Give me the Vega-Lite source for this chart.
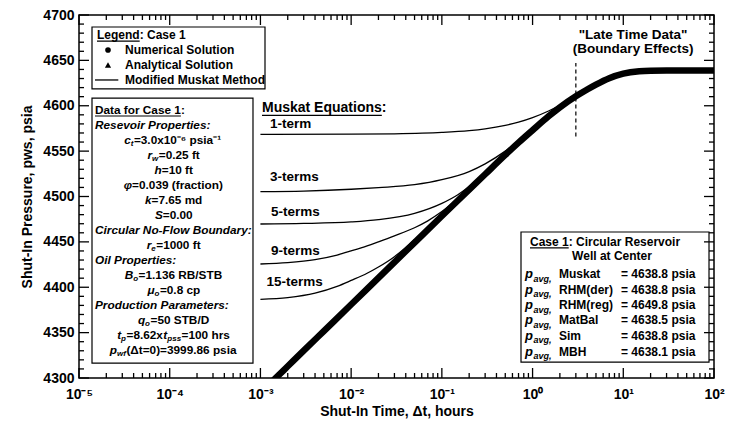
{
  "$schema": "https://vega.github.io/schema/vega-lite/v6.json",
  "width": 635,
  "height": 363,
  "autosize": {"type": "none"},
  "padding": {"left": 79, "top": 15, "right": 20, "bottom": 48},
  "background": "white",
  "config": {
    "view": {"stroke": "black", "strokeWidth": 1.5},
    "font": "Liberation Sans"
  },
  "datasets": {
    "main": [
      {"t": 0.0012, "p": 4291.3}, {"t": 0.0015, "p": 4300.7}, {"t": 0.002, "p": 4312.9}, {"t": 0.003, "p": 4330.1},
      {"t": 0.005, "p": 4351.7}, {"t": 0.01, "p": 4381.0}, {"t": 0.02, "p": 4410.4}, {"t": 0.05, "p": 4449.2},
      {"t": 0.1, "p": 4478.5}, {"t": 0.2, "p": 4507.5}, {"t": 0.3, "p": 4524.5}, {"t": 0.5, "p": 4545.8},
      {"t": 0.7, "p": 4559.3}, {"t": 1.0, "p": 4573.0}, {"t": 1.5, "p": 4588.3}, {"t": 2.0, "p": 4598.3},
      {"t": 3.0, "p": 4610.5}, {"t": 4.0, "p": 4617.9}, {"t": 5.0, "p": 4623.3}, {"t": 7.0, "p": 4630.4},
      {"t": 10, "p": 4635.4}, {"t": 15, "p": 4638.05}, {"t": 20, "p": 4638.64}, {"t": 30, "p": 4638.8},
      {"t": 50, "p": 4638.8}, {"t": 100, "p": 4638.8}
    ],
    "muskat": [
      {"terms": "1-term", "t": 0.001, "p": 4568.5}, {"terms": "1-term", "t": 0.01, "p": 4568.7}, {"terms": "1-term", "t": 0.03, "p": 4569.1},
      {"terms": "1-term", "t": 0.1, "p": 4570.6}, {"terms": "1-term", "t": 0.2, "p": 4572.6}, {"terms": "1-term", "t": 0.3, "p": 4574.6},
      {"terms": "1-term", "t": 0.5, "p": 4578.4}, {"terms": "1-term", "t": 0.7, "p": 4581.9}, {"terms": "1-term", "t": 1.0, "p": 4586.9},
      {"terms": "1-term", "t": 1.5, "p": 4594.2}, {"terms": "1-term", "t": 2.0, "p": 4600.5}, {"terms": "1-term", "t": 2.5, "p": 4605.8},
      {"terms": "1-term", "t": 3.0, "p": 4610.5}, {"terms": "1-term", "t": 3.5, "p": 4614.5},
      {"terms": "3-terms", "t": 0.001, "p": 4505.3}, {"terms": "3-terms", "t": 0.003, "p": 4506.0}, {"terms": "3-terms", "t": 0.01, "p": 4508.0},
      {"terms": "3-terms", "t": 0.02, "p": 4509.8}, {"terms": "3-terms", "t": 0.05, "p": 4513.0}, {"terms": "3-terms", "t": 0.1, "p": 4518.5},
      {"terms": "3-terms", "t": 0.2, "p": 4527.5}, {"terms": "3-terms", "t": 0.3, "p": 4536.0}, {"terms": "3-terms", "t": 0.5, "p": 4550.0},
      {"terms": "3-terms", "t": 0.7, "p": 4561.0}, {"terms": "3-terms", "t": 1.0, "p": 4574.0},
      {"terms": "5-terms", "t": 0.001, "p": 4469.7}, {"terms": "5-terms", "t": 0.003, "p": 4470.3}, {"terms": "5-terms", "t": 0.01, "p": 4472.0},
      {"terms": "5-terms", "t": 0.02, "p": 4474.5}, {"terms": "5-terms", "t": 0.05, "p": 4481.5}, {"terms": "5-terms", "t": 0.1, "p": 4492.5},
      {"terms": "5-terms", "t": 0.15, "p": 4502.0}, {"terms": "5-terms", "t": 0.2, "p": 4511.0}, {"terms": "5-terms", "t": 0.3, "p": 4526.5},
      {"terms": "5-terms", "t": 0.5, "p": 4546.5},
      {"terms": "9-terms", "t": 0.001, "p": 4425.6}, {"terms": "9-terms", "t": 0.002, "p": 4427.2}, {"terms": "9-terms", "t": 0.004, "p": 4430.5},
      {"terms": "9-terms", "t": 0.007, "p": 4435.5}, {"terms": "9-terms", "t": 0.01, "p": 4440.0}, {"terms": "9-terms", "t": 0.015, "p": 4445.5},
      {"terms": "9-terms", "t": 0.02, "p": 4450.0}, {"terms": "9-terms", "t": 0.03, "p": 4456.6}, {"terms": "9-terms", "t": 0.05, "p": 4465.6},
      {"terms": "9-terms", "t": 0.07, "p": 4473.2}, {"terms": "9-terms", "t": 0.1, "p": 4483.4}, {"terms": "9-terms", "t": 0.15, "p": 4497.5},
      {"terms": "9-terms", "t": 0.2, "p": 4508.7},
      {"terms": "15-terms", "t": 0.001, "p": 4386.7}, {"terms": "15-terms", "t": 0.002, "p": 4388.6}, {"terms": "15-terms", "t": 0.004, "p": 4393.5},
      {"terms": "15-terms", "t": 0.007, "p": 4401.0}, {"terms": "15-terms", "t": 0.01, "p": 4407.5}, {"terms": "15-terms", "t": 0.015, "p": 4415.4},
      {"terms": "15-terms", "t": 0.02, "p": 4422.3}, {"terms": "15-terms", "t": 0.03, "p": 4433.7}, {"terms": "15-terms", "t": 0.04, "p": 4443.7},
      {"terms": "15-terms", "t": 0.05, "p": 4452.6}
    ],
    "xMajor": [{"t": 1e-5}, {"t": 1e-4}, {"t": 0.001}, {"t": 0.01}, {"t": 0.1}, {"t": 1}, {"t": 10}, {"t": 100}],
    "xMinor": [
      {"t": 2e-5}, {"t": 3e-5}, {"t": 4e-5}, {"t": 5e-5}, {"t": 6e-5}, {"t": 7e-5}, {"t": 8e-5}, {"t": 9e-5},
      {"t": 2e-4}, {"t": 3e-4}, {"t": 4e-4}, {"t": 5e-4}, {"t": 6e-4}, {"t": 7e-4}, {"t": 8e-4}, {"t": 9e-4},
      {"t": 0.002}, {"t": 0.003}, {"t": 0.004}, {"t": 0.005}, {"t": 0.006}, {"t": 0.007}, {"t": 0.008}, {"t": 0.009},
      {"t": 0.02}, {"t": 0.03}, {"t": 0.04}, {"t": 0.05}, {"t": 0.06}, {"t": 0.07}, {"t": 0.08}, {"t": 0.09},
      {"t": 0.2}, {"t": 0.3}, {"t": 0.4}, {"t": 0.5}, {"t": 0.6}, {"t": 0.7}, {"t": 0.8}, {"t": 0.9},
      {"t": 2}, {"t": 3}, {"t": 4}, {"t": 5}, {"t": 6}, {"t": 7}, {"t": 8}, {"t": 9},
      {"t": 20}, {"t": 30}, {"t": 40}, {"t": 50}, {"t": 60}, {"t": 70}, {"t": 80}, {"t": 90}
    ],
    "yMajor": [{"p": 4300}, {"p": 4350}, {"p": 4400}, {"p": 4450}, {"p": 4500}, {"p": 4550}, {"p": 4600}, {"p": 4650}, {"p": 4700}],
    "yMinor": [
      {"p": 4310}, {"p": 4320}, {"p": 4330}, {"p": 4340}, {"p": 4360}, {"p": 4370}, {"p": 4380}, {"p": 4390},
      {"p": 4410}, {"p": 4420}, {"p": 4430}, {"p": 4440}, {"p": 4460}, {"p": 4470}, {"p": 4480}, {"p": 4490},
      {"p": 4510}, {"p": 4520}, {"p": 4530}, {"p": 4540}, {"p": 4560}, {"p": 4570}, {"p": 4580}, {"p": 4590},
      {"p": 4610}, {"p": 4620}, {"p": 4630}, {"p": 4640}, {"p": 4660}, {"p": 4670}, {"p": 4680}, {"p": 4690}
    ],
    "boxes": [
      {"box": "legend", "t1": 1.391e-5, "t2": 1.123e-3, "p1": 4618.5, "p2": 4686.8},
      {"box": "data", "t1": 1.391e-5, "t2": 8.28e-4, "p1": 4316.5, "p2": 4608.5},
      {"box": "case", "t1": 0.7455, "t2": 88.1, "p1": 4317.6, "p2": 4460.9}
    ],
    "dashed": [{"t": 3, "p1": 4566, "p2": 4647}],
    "underlines": [
      {"t1": 1.579e-5, "t2": 4.668e-5, "p": 4671.3},
      {"t1": 1.5012e-5, "t2": 1.3284e-4, "p": 4588.7},
      {"t1": 1.0407e-3, "t2": 0.02178, "p": 4589.5},
      {"t1": 0.9369, "t2": 2.502, "p": 4443.3}
    ],
    "legendCircle": [{"t": 2.088e-5, "p": 4661.4}],
    "legendTriangle": [{"t": 2.088e-5, "p": 4644.9}],
    "legendLine": [{"t1": 1.5012e-5, "t2": 2.7125e-5, "p": 4628.4}],
    "txtBold12": [
      {"t": 1.579e-5, "p": 4678.0, "text": "Legend: Case 1"},
      {"t": 3.215e-5, "p": 4661.4, "text": "Numerical Solution"},
      {"t": 3.215e-5, "p": 4644.9, "text": "Analytical Solution"},
      {"t": 3.215e-5, "p": 4628.4, "text": "Modified Muskat Method"},
      {"t": 0.9369, "p": 4449.9, "text": "Case 1: Circular Reservoir"},
      {"t": 1.956, "p": 4414.6, "text": "Muskat"},
      {"t": 1.956, "p": 4397.5, "text": "RHM(der)"},
      {"t": 1.956, "p": 4380.4, "text": "RHM(reg)"},
      {"t": 1.956, "p": 4363.4, "text": "MatBal"},
      {"t": 1.956, "p": 4346.3, "text": "Sim"},
      {"t": 1.956, "p": 4329.2, "text": "MBH"},
      {"t": 9.437, "p": 4414.6, "text": "= 4638.8 psia"},
      {"t": 9.437, "p": 4397.5, "text": "= 4638.8 psia"},
      {"t": 9.437, "p": 4380.4, "text": "= 4649.8 psia"},
      {"t": 9.437, "p": 4363.4, "text": "= 4638.5 psia"},
      {"t": 9.437, "p": 4346.3, "text": "= 4638.8 psia"},
      {"t": 9.437, "p": 4329.2, "text": "= 4638.1 psia"}
    ],
    "txtCenter12": [{"t": 7.51, "p": 4434.4, "text": "Well at Center"}],
    "txtCaseP": [
      {"t": 0.8253, "p": 4414.6, "text": "p"}, {"t": 0.8253, "p": 4397.5, "text": "p"}, {"t": 0.8253, "p": 4380.4, "text": "p"},
      {"t": 0.8253, "p": 4363.4, "text": "p"}, {"t": 0.8253, "p": 4346.3, "text": "p"}, {"t": 0.8253, "p": 4329.2, "text": "p"}
    ],
    "txtCaseSub": [
      {"t": 1.0238, "p": 4414.6, "text": "avg,"}, {"t": 1.0238, "p": 4397.5, "text": "avg,"}, {"t": 1.0238, "p": 4380.4, "text": "avg,"},
      {"t": 1.0238, "p": 4363.4, "text": "avg,"}, {"t": 1.0238, "p": 4346.3, "text": "avg,"}, {"t": 1.0238, "p": 4329.2, "text": "avg,"}
    ],
    "dbRest": [
      {"t": 1.5012e-5, "p": 4595.3, "text": "Data for Case 1:"},
      {"t": 4.029e-5, "p": 4562.3, "text": "=3.0x10⁻⁶ psia⁻¹"},
      {"t": 7.580e-5, "p": 4545.7, "text": "=0.25 ft"},
      {"t": 8.180e-5, "p": 4529.2, "text": "=10 ft"},
      {"t": 3.849e-5, "p": 4512.7, "text": "=0.039 (fraction)"},
      {"t": 6.298e-5, "p": 4496.1, "text": "=7.65 md"},
      {"t": 8.390e-5, "p": 4479.6, "text": "=0.00"},
      {"t": 7.114e-5, "p": 4446.6, "text": "=1000 ft"},
      {"t": 4.539e-5, "p": 4413.5, "text": "=1.136 RB/STB"},
      {"t": 7.795e-5, "p": 4397.0, "text": "=0.8 cp"},
      {"t": 6.140e-5, "p": 4363.9, "text": "=50 STB/D"},
      {"t": 3.339e-5, "p": 4347.4, "text": "=8.62x"},
      {"t": 1.3524e-4, "p": 4347.4, "text": "=100 hrs"},
      {"t": 3.330e-5, "p": 4330.9, "text": "(Δt=0)=3999.86 psia"}
    ],
    "dbVar": [
      {"t": 3.7148e-5, "p": 4562.3, "text": "c"},
      {"t": 6.394e-5, "p": 4545.7, "text": "r"},
      {"t": 8.180e-5, "p": 4529.2, "text": "h"},
      {"t": 3.849e-5, "p": 4512.7, "text": "φ"},
      {"t": 6.298e-5, "p": 4496.1, "text": "k"},
      {"t": 8.390e-5, "p": 4479.6, "text": "S"},
      {"t": 6.266e-5, "p": 4446.6, "text": "r"},
      {"t": 3.958e-5, "p": 4413.5, "text": "B"},
      {"t": 6.797e-5, "p": 4397.0, "text": "μ"},
      {"t": 5.356e-5, "p": 4363.9, "text": "q"},
      {"t": 2.912e-5, "p": 4347.4, "text": "t"},
      {"t": 2.624e-5, "p": 4330.9, "text": "p"}
    ],
    "dbSub": [
      {"t": 3.7148e-5, "p": 4562.3, "text": "t"},
      {"t": 6.394e-5, "p": 4545.7, "text": "w"},
      {"t": 6.266e-5, "p": 4446.6, "text": "e"},
      {"t": 3.958e-5, "p": 4413.5, "text": "o"},
      {"t": 6.797e-5, "p": 4397.0, "text": "o"},
      {"t": 5.356e-5, "p": 4363.9, "text": "o"},
      {"t": 2.912e-5, "p": 4347.4, "text": "p"},
      {"t": 9.406e-5, "p": 4347.4, "text": "pss"},
      {"t": 2.624e-5, "p": 4330.9, "text": "wf"}
    ],
    "dbItalic": [
      {"t": 1.5012e-5, "p": 4578.8, "text": "Resevoir Properties:"},
      {"t": 1.5012e-5, "p": 4463.1, "text": "Circular No-Flow Boundary:"},
      {"t": 1.5012e-5, "p": 4430.0, "text": "Oil Properties:"},
      {"t": 1.5012e-5, "p": 4380.4, "text": "Production Parameters:"},
      {"t": 8.476e-5, "p": 4347.4, "text": "t"}
    ],
    "txtMuskHead": [{"t": 1.0407e-3, "p": 4597.2, "text": "Muskat Equations:"}],
    "txtTerms": [
      {"t": 1.2750e-3, "p": 4579.9, "text": "1-term"},
      {"t": 1.2750e-3, "p": 4521.8, "text": "3-terms"},
      {"t": 1.3078e-3, "p": 4483.3, "text": "5-terms"},
      {"t": 1.3078e-3, "p": 4440.3, "text": "9-terms"},
      {"t": 1.1665e-3, "p": 4406.1, "text": "15-terms"}
    ],
    "txtLate": [
      {"t": 12.8, "p": 4678.0, "text": "\"Late Time Data\""},
      {"t": 12.8, "p": 4662.0, "text": "(Boundary Effects)"}
    ]
  },
  "layer": [
    {
      "data": {"name": "boxes"},
      "mark": {"type": "rect", "fill": "white", "stroke": "black", "strokeWidth": 1.2},
      "encoding": {
        "x": {"field": "t1", "type": "quantitative", "scale": {"type": "log", "domain": [1e-5, 100], "nice": false}, "axis": null},
        "x2": {"field": "t2"},
        "y": {"field": "p1", "type": "quantitative", "scale": {"domain": [4300, 4700], "nice": false, "zero": false}, "axis": null},
        "y2": {"field": "p2"}
      }
    },
    {
      "data": {"name": "xMajor"},
      "mark": {"type": "rule", "color": "black", "strokeWidth": 1.3},
      "encoding": {
        "x": {"field": "t", "type": "quantitative", "scale": {"type": "log", "domain": [1e-5, 100], "nice": false}, "axis": null},
        "y": {"datum": 4300, "type": "quantitative", "scale": {"domain": [4300, 4700], "nice": false, "zero": false}, "axis": null},
        "y2": {"datum": 4311}
      }
    },
    {
      "data": {"name": "xMajor"},
      "mark": {"type": "rule", "color": "black", "strokeWidth": 1.3},
      "encoding": {
        "x": {"field": "t", "type": "quantitative", "scale": {"type": "log", "domain": [1e-5, 100], "nice": false}, "axis": null},
        "y": {"datum": 4700, "type": "quantitative", "scale": {"domain": [4300, 4700], "nice": false, "zero": false}, "axis": null},
        "y2": {"datum": 4689}
      }
    },
    {
      "data": {"name": "xMinor"},
      "mark": {"type": "rule", "color": "black", "strokeWidth": 1.3},
      "encoding": {
        "x": {"field": "t", "type": "quantitative", "scale": {"type": "log", "domain": [1e-5, 100], "nice": false}, "axis": null},
        "y": {"datum": 4300, "type": "quantitative", "scale": {"domain": [4300, 4700], "nice": false, "zero": false}, "axis": null},
        "y2": {"datum": 4305.5}
      }
    },
    {
      "data": {"name": "xMinor"},
      "mark": {"type": "rule", "color": "black", "strokeWidth": 1.3},
      "encoding": {
        "x": {"field": "t", "type": "quantitative", "scale": {"type": "log", "domain": [1e-5, 100], "nice": false}, "axis": null},
        "y": {"datum": 4700, "type": "quantitative", "scale": {"domain": [4300, 4700], "nice": false, "zero": false}, "axis": null},
        "y2": {"datum": 4694.5}
      }
    },
    {
      "data": {"name": "yMajor"},
      "mark": {"type": "rule", "color": "black", "strokeWidth": 1.3},
      "encoding": {
        "y": {"field": "p", "type": "quantitative", "scale": {"domain": [4300, 4700], "nice": false, "zero": false}, "axis": null},
        "x": {"datum": 1e-5, "type": "quantitative", "scale": {"type": "log", "domain": [1e-5, 100], "nice": false}, "axis": null},
        "x2": {"datum": 1.289e-5}
      }
    },
    {
      "data": {"name": "yMajor"},
      "mark": {"type": "rule", "color": "black", "strokeWidth": 1.3},
      "encoding": {
        "y": {"field": "p", "type": "quantitative", "scale": {"domain": [4300, 4700], "nice": false, "zero": false}, "axis": null},
        "x": {"datum": 100, "type": "quantitative", "scale": {"type": "log", "domain": [1e-5, 100], "nice": false}, "axis": null},
        "x2": {"datum": 77.6}
      }
    },
    {
      "data": {"name": "yMinor"},
      "mark": {"type": "rule", "color": "black", "strokeWidth": 1.3},
      "encoding": {
        "y": {"field": "p", "type": "quantitative", "scale": {"domain": [4300, 4700], "nice": false, "zero": false}, "axis": null},
        "x": {"datum": 1e-5, "type": "quantitative", "scale": {"type": "log", "domain": [1e-5, 100], "nice": false}, "axis": null},
        "x2": {"datum": 1.1354e-5}
      }
    },
    {
      "data": {"name": "yMinor"},
      "mark": {"type": "rule", "color": "black", "strokeWidth": 1.3},
      "encoding": {
        "y": {"field": "p", "type": "quantitative", "scale": {"domain": [4300, 4700], "nice": false, "zero": false}, "axis": null},
        "x": {"datum": 100, "type": "quantitative", "scale": {"type": "log", "domain": [1e-5, 100], "nice": false}, "axis": null},
        "x2": {"datum": 88.07}
      }
    },
    {
      "data": {"name": "muskat"},
      "mark": {"type": "line", "color": "black", "strokeWidth": 1.3, "interpolate": "monotone", "clip": true},
      "encoding": {
        "x": {"field": "t", "type": "quantitative", "scale": {"type": "log", "domain": [1e-5, 100], "nice": false}, "axis": null},
        "y": {"field": "p", "type": "quantitative", "scale": {"domain": [4300, 4700], "nice": false, "zero": false}, "axis": null},
        "detail": {"field": "terms", "type": "nominal"}
      }
    },
    {
      "data": {"name": "main"},
      "mark": {"type": "line", "color": "black", "strokeWidth": 6.5, "interpolate": "monotone", "clip": true},
      "encoding": {
        "x": {"field": "t", "type": "quantitative", "scale": {"type": "log", "domain": [1e-5, 100], "nice": false},
          "axis": {"orient": "bottom", "ticks": false, "grid": false, "title": "Shut-In Time, Δt, hours", "domain": false,
            "labelPadding": 9,
            "labelFont": "Liberation Sans", "labelFontSize": 14, "labelFontWeight": "bold", "labelColor": "black",
            "labelFlush": false, "labelOverlap": false, "labelBound": false,
            "titleFont": "Liberation Sans", "titleFontSize": 14, "titleFontWeight": "bold", "titleColor": "black", "titlePadding": 3,
            "values": [1e-5,1e-4,0.001,0.01,0.1,1,10,100],
            "labelExpr": "'10' + ['⁻⁵','⁻⁴','⁻³','⁻²','⁻¹','⁰','¹','²'][round(log(datum.value)/LN10)+5]"}},
        "y": {"field": "p", "type": "quantitative", "scale": {"domain": [4300, 4700], "nice": false, "zero": false},
          "axis": {"orient": "left", "ticks": false, "grid": false, "title": "Shut-In Pressure, pws, psia", "domain": false,
            "labelPadding": 5, "format": "d",
            "labelFont": "Liberation Sans", "labelFontSize": 14, "labelFontWeight": "bold", "labelColor": "black", "labelOverlap": false,
            "titleFont": "Liberation Sans", "titleFontSize": 14, "titleFontWeight": "bold", "titleColor": "black", "titlePadding": 8,
            "values": [4300,4350,4400,4450,4500,4550,4600,4650,4700]}}
      }
    },
    {
      "data": {"name": "dashed"},
      "mark": {"type": "rule", "color": "black", "strokeWidth": 1.2, "strokeDash": [4, 3]},
      "encoding": {
        "x": {"field": "t", "type": "quantitative", "scale": {"type": "log", "domain": [1e-5, 100], "nice": false}, "axis": null},
        "y": {"field": "p1", "type": "quantitative", "scale": {"domain": [4300, 4700], "nice": false, "zero": false}, "axis": null},
        "y2": {"field": "p2"}
      }
    },
    {
      "data": {"name": "underlines"},
      "mark": {"type": "rule", "color": "black", "strokeWidth": 1.2},
      "encoding": {
        "x": {"field": "t1", "type": "quantitative", "scale": {"type": "log", "domain": [1e-5, 100], "nice": false}, "axis": null},
        "x2": {"field": "t2"},
        "y": {"field": "p", "type": "quantitative", "scale": {"domain": [4300, 4700], "nice": false, "zero": false}, "axis": null}
      }
    },
    {
      "data": {"name": "legendLine"},
      "mark": {"type": "rule", "color": "black", "strokeWidth": 1.3},
      "encoding": {
        "x": {"field": "t1", "type": "quantitative", "scale": {"type": "log", "domain": [1e-5, 100], "nice": false}, "axis": null},
        "x2": {"field": "t2"},
        "y": {"field": "p", "type": "quantitative", "scale": {"domain": [4300, 4700], "nice": false, "zero": false}, "axis": null}
      }
    },
    {
      "data": {"name": "legendCircle"},
      "mark": {"type": "point", "shape": "circle", "filled": true, "color": "black", "size": 32, "opacity": 1},
      "encoding": {
        "x": {"field": "t", "type": "quantitative", "scale": {"type": "log", "domain": [1e-5, 100], "nice": false}, "axis": null},
        "y": {"field": "p", "type": "quantitative", "scale": {"domain": [4300, 4700], "nice": false, "zero": false}, "axis": null}
      }
    },
    {
      "data": {"name": "legendTriangle"},
      "mark": {"type": "point", "shape": "triangle-up", "filled": true, "color": "black", "size": 38, "opacity": 1},
      "encoding": {
        "x": {"field": "t", "type": "quantitative", "scale": {"type": "log", "domain": [1e-5, 100], "nice": false}, "axis": null},
        "y": {"field": "p", "type": "quantitative", "scale": {"domain": [4300, 4700], "nice": false, "zero": false}, "axis": null}
      }
    },
    {
      "data": {"name": "txtBold12"},
      "mark": {"type": "text", "align": "left", "baseline": "middle", "font": "Liberation Sans", "fontSize": 12, "fontWeight": "bold", "color": "black"},
      "encoding": {
        "x": {"field": "t", "type": "quantitative", "scale": {"type": "log", "domain": [1e-5, 100], "nice": false}, "axis": null},
        "y": {"field": "p", "type": "quantitative", "scale": {"domain": [4300, 4700], "nice": false, "zero": false}, "axis": null},
        "text": {"field": "text"}
      }
    },
    {
      "data": {"name": "txtCenter12"},
      "mark": {"type": "text", "align": "center", "baseline": "middle", "font": "Liberation Sans", "fontSize": 12, "fontWeight": "bold", "color": "black"},
      "encoding": {
        "x": {"field": "t", "type": "quantitative", "scale": {"type": "log", "domain": [1e-5, 100], "nice": false}, "axis": null},
        "y": {"field": "p", "type": "quantitative", "scale": {"domain": [4300, 4700], "nice": false, "zero": false}, "axis": null},
        "text": {"field": "text"}
      }
    },
    {
      "data": {"name": "txtCaseP"},
      "mark": {"type": "text", "align": "left", "baseline": "middle", "font": "Liberation Sans", "fontSize": 13, "fontWeight": "bold", "fontStyle": "italic", "color": "black"},
      "encoding": {
        "x": {"field": "t", "type": "quantitative", "scale": {"type": "log", "domain": [1e-5, 100], "nice": false}, "axis": null},
        "y": {"field": "p", "type": "quantitative", "scale": {"domain": [4300, 4700], "nice": false, "zero": false}, "axis": null},
        "text": {"field": "text"}
      }
    },
    {
      "data": {"name": "txtCaseSub"},
      "mark": {"type": "text", "align": "left", "baseline": "middle", "dy": 4.5, "font": "Liberation Sans", "fontSize": 9, "fontWeight": "bold", "fontStyle": "italic", "color": "black"},
      "encoding": {
        "x": {"field": "t", "type": "quantitative", "scale": {"type": "log", "domain": [1e-5, 100], "nice": false}, "axis": null},
        "y": {"field": "p", "type": "quantitative", "scale": {"domain": [4300, 4700], "nice": false, "zero": false}, "axis": null},
        "text": {"field": "text"}
      }
    },
    {
      "data": {"name": "dbRest"},
      "mark": {"type": "text", "align": "left", "baseline": "middle", "font": "Liberation Sans", "fontSize": 11.8, "fontWeight": "bold", "color": "black"},
      "encoding": {
        "x": {"field": "t", "type": "quantitative", "scale": {"type": "log", "domain": [1e-5, 100], "nice": false}, "axis": null},
        "y": {"field": "p", "type": "quantitative", "scale": {"domain": [4300, 4700], "nice": false, "zero": false}, "axis": null},
        "text": {"field": "text"}
      }
    },
    {
      "data": {"name": "dbVar"},
      "mark": {"type": "text", "align": "right", "baseline": "middle", "font": "Liberation Sans", "fontSize": 11.8, "fontWeight": "bold", "fontStyle": "italic", "color": "black"},
      "encoding": {
        "x": {"field": "t", "type": "quantitative", "scale": {"type": "log", "domain": [1e-5, 100], "nice": false}, "axis": null},
        "y": {"field": "p", "type": "quantitative", "scale": {"domain": [4300, 4700], "nice": false, "zero": false}, "axis": null},
        "text": {"field": "text"}
      }
    },
    {
      "data": {"name": "dbSub"},
      "mark": {"type": "text", "align": "left", "baseline": "middle", "dy": 4, "font": "Liberation Sans", "fontSize": 8, "fontWeight": "bold", "fontStyle": "italic", "color": "black"},
      "encoding": {
        "x": {"field": "t", "type": "quantitative", "scale": {"type": "log", "domain": [1e-5, 100], "nice": false}, "axis": null},
        "y": {"field": "p", "type": "quantitative", "scale": {"domain": [4300, 4700], "nice": false, "zero": false}, "axis": null},
        "text": {"field": "text"}
      }
    },
    {
      "data": {"name": "dbItalic"},
      "mark": {"type": "text", "align": "left", "baseline": "middle", "font": "Liberation Sans", "fontSize": 11.8, "fontWeight": "bold", "fontStyle": "italic", "color": "black"},
      "encoding": {
        "x": {"field": "t", "type": "quantitative", "scale": {"type": "log", "domain": [1e-5, 100], "nice": false}, "axis": null},
        "y": {"field": "p", "type": "quantitative", "scale": {"domain": [4300, 4700], "nice": false, "zero": false}, "axis": null},
        "text": {"field": "text"}
      }
    },
    {
      "data": {"name": "txtMuskHead"},
      "mark": {"type": "text", "align": "left", "baseline": "middle", "font": "Liberation Sans", "fontSize": 14, "fontWeight": "bold", "color": "black"},
      "encoding": {
        "x": {"field": "t", "type": "quantitative", "scale": {"type": "log", "domain": [1e-5, 100], "nice": false}, "axis": null},
        "y": {"field": "p", "type": "quantitative", "scale": {"domain": [4300, 4700], "nice": false, "zero": false}, "axis": null},
        "text": {"field": "text"}
      }
    },
    {
      "data": {"name": "txtTerms"},
      "mark": {"type": "text", "align": "left", "baseline": "middle", "font": "Liberation Sans", "fontSize": 13.5, "fontWeight": "bold", "color": "black"},
      "encoding": {
        "x": {"field": "t", "type": "quantitative", "scale": {"type": "log", "domain": [1e-5, 100], "nice": false}, "axis": null},
        "y": {"field": "p", "type": "quantitative", "scale": {"domain": [4300, 4700], "nice": false, "zero": false}, "axis": null},
        "text": {"field": "text"}
      }
    },
    {
      "data": {"name": "txtLate"},
      "mark": {"type": "text", "align": "center", "baseline": "middle", "font": "Liberation Sans", "fontSize": 13.5, "fontWeight": "bold", "color": "black"},
      "encoding": {
        "x": {"field": "t", "type": "quantitative", "scale": {"type": "log", "domain": [1e-5, 100], "nice": false}, "axis": null},
        "y": {"field": "p", "type": "quantitative", "scale": {"domain": [4300, 4700], "nice": false, "zero": false}, "axis": null},
        "text": {"field": "text"}
      }
    }
  ],
  "resolve": {"axis": {"x": "independent", "y": "independent"}}
}
